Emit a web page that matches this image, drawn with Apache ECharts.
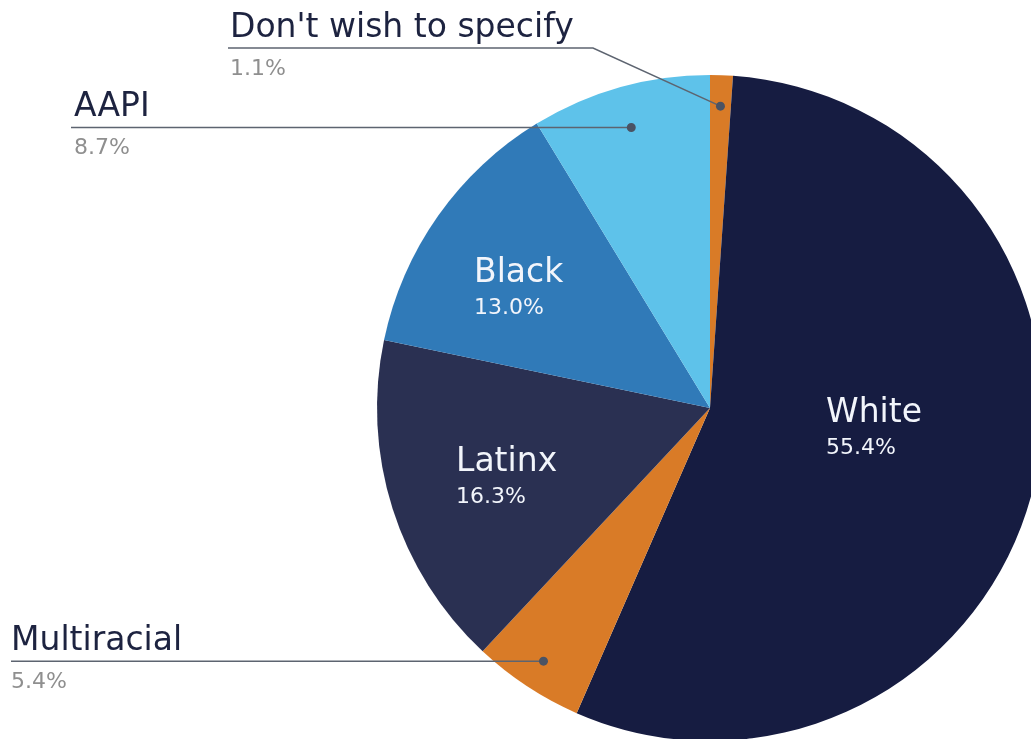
<!DOCTYPE html>
<html><head><meta charset="utf-8">
<script src="https://cdn.jsdelivr.net/npm/echarts@6/dist/echarts.min.js"></script>
<style>html,body{margin:0;padding:0;background:#fff}#c{width:1031px;height:739px}</style>
</head><body><div id="c"></div>
<script>
// ---- data ----
const categories = ["Don't wish to specify", "White", "Multiracial", "Latinx", "Black", "AAPI"];
const values = [1.1, 55.4, 5.4, 16.3, 13.0, 8.7];
const sliceColors = ['#d97b27', '#161c41', '#d97b27', '#2a3052', '#307ab8', '#5ec2ea'];
const labelKind = ['outside', 'inside', 'outside', 'inside', 'inside', 'outside'];

// ---- layout ----
const CX = 710, CY = 408, R = 333;
const FONT = '"DejaVu Sans", sans-serif';
const labelPlace = {
  "White": { x: 826, y: 393 },
  "Latinx": { x: 456, y: 442 },
  "Black": { x: 474, y: 253 },
  "Don't wish to specify": { textX: 230, lineX: 228, lineY: 48, bendX: 593, frac: 0.907 },
  "AAPI": { textX: 74, lineX: 71, frac: 0.875 },
  "Multiracial": { textX: 11, lineX: 11, frac: 0.91 }
};
const LINE_COLOR = '#5d6470';
const DOT_COLOR = '#4a5364';

const total = values.reduce((a, b) => a + b, 0);
function anchor(i, frac) {
  let cum = 0;
  for (let k = 0; k < i; k++) cum += values[k];
  const mid = (cum + values[i] / 2) / total * 2 * Math.PI;
  return [CX + R * frac * Math.sin(mid), CY - R * frac * Math.cos(mid)];
}
function leader(i) {
  const pl = labelPlace[categories[i]];
  const a = anchor(i, pl.frac);
  const ly = pl.lineY != null ? pl.lineY : a[1];
  const pts = pl.bendX != null ? [a, [pl.bendX, ly], [pl.lineX, ly]] : [a, [pl.lineX, ly]];
  return { a, ly, pts };
}

const outsideRich = {
  n: { fontFamily: FONT, fontSize: 33, color: '#1d2340', lineHeight: 40 },
  p: { fontFamily: FONT, fontSize: 22, color: '#8f8f8f', lineHeight: 42 }
};
const insideRich = {
  n: { fontFamily: FONT, fontSize: 33, color: '#f2f5fb', lineHeight: 40 },
  p: { fontFamily: FONT, fontSize: 22, color: '#f2f5fb', lineHeight: 30 }
};

const data = categories.map((name, i) => ({
  name: name,
  value: values[i],
  itemStyle: { color: sliceColors[i] },
  label: {
    show: true,
    position: labelKind[i],
    rich: labelKind[i] === 'outside' ? outsideRich : insideRich
  },
  labelLine: { show: false }
}));

const graphics = [];
categories.forEach((name, i) => {
  if (labelKind[i] === 'outside') {
    const L = leader(i);
    graphics.push({ type: 'polyline', shape: { points: L.pts }, style: { stroke: LINE_COLOR, lineWidth: 1.5, fill: null }, z: 100 });
    graphics.push({ type: 'circle', shape: { cx: L.a[0], cy: L.a[1], r: 4.5 }, style: { fill: DOT_COLOR }, z: 101 });
  }
});

const chart = echarts.init(document.getElementById('c'), null, { renderer: 'canvas' });
chart.setOption({
  animation: false,
  backgroundColor: '#ffffff',
  graphic: graphics,
  series: [{
    type: 'pie',
    center: [CX, CY],
    radius: R,
    startAngle: 90,
    clockwise: true,
    avoidLabelOverlap: false,
    silent: true,
    data: data,
    label: {
      formatter: p => `{n|${p.name}}\n{p|${p.value.toFixed(1)}%}`
    },
    labelLayout: function (params) {
      const i = params.dataIndex;
      const pl = labelPlace[categories[i]];
      if (labelKind[i] === 'inside') {
        return { x: pl.x, y: pl.y, align: 'left', verticalAlign: 'top' };
      }
      const L = leader(i);
      return { x: pl.textX, y: L.ly - 40, align: 'left', verticalAlign: 'top' };
    }
  }]
});
</script>
</body></html>
